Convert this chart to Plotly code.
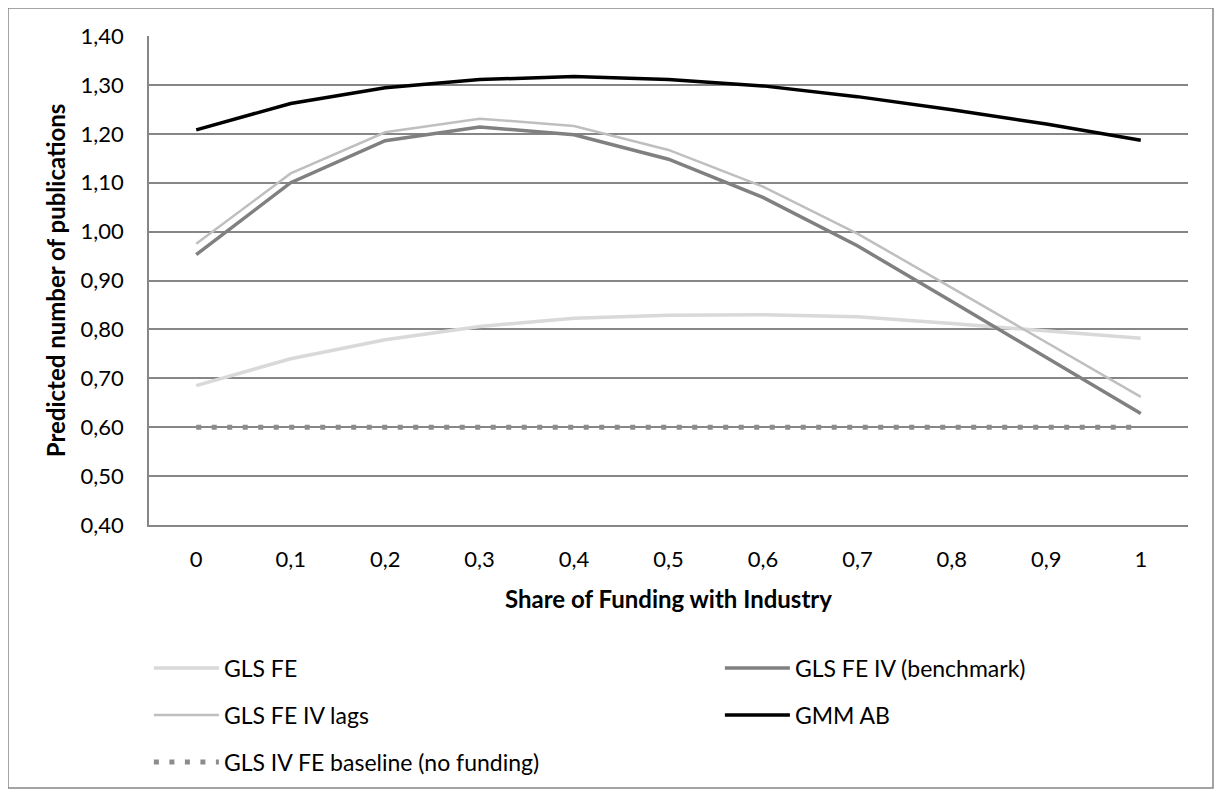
import plotly.graph_objects as go

# ---- data ----
x_labels = ["0", "0,1", "0,2", "0,3", "0,4", "0,5", "0,6", "0,7", "0,8", "0,9", "1"]
gls_fe = [0.685, 0.740, 0.779, 0.806, 0.823, 0.829, 0.830, 0.826, 0.812, 0.797, 0.782]
gls_fe_iv = [0.953, 1.100, 1.186, 1.214, 1.198, 1.148, 1.070, 0.971, 0.857, 0.743, 0.628]
gls_fe_iv_lags = [0.975, 1.119, 1.203, 1.231, 1.216, 1.167, 1.092, 0.996, 0.885, 0.774, 0.662]
gmm_ab = [1.208, 1.262, 1.294, 1.311, 1.317, 1.311, 1.298, 1.276, 1.249, 1.220, 1.187]
baseline = [0.60] * 11

FONT = "Lato"
FS_TICK = 22
FS_LEG = 23
FS_TITLE = 24
OFF = 8  # page body margin
W, H = 1216, 788
L, R, T, B = 149 - OFF, 1188 - OFF, 36 - OFF, 525 - OFF

fig = go.Figure()
fig.add_trace(go.Scatter(x=x_labels, y=gls_fe, name="GLS FE", mode="lines",
                         line=dict(color="#D9D9D9", width=3.5), legend="legend"))
fig.add_trace(go.Scatter(x=x_labels, y=gls_fe_iv, name="GLS FE IV (benchmark)", mode="lines",
                         line=dict(color="#808080", width=3.5), legend="legend"))
fig.add_trace(go.Scatter(x=x_labels, y=gls_fe_iv_lags, name="GLS FE IV lags", mode="lines",
                         line=dict(color="#BFBFBF", width=2.5), legend="legend2"))
fig.add_trace(go.Scatter(x=x_labels, y=gmm_ab, name="GMM AB", mode="lines",
                         line=dict(color="#000000", width=3.5), legend="legend2"))
fig.add_trace(go.Scatter(x=x_labels, y=baseline, name="GLS IV FE baseline (no funding)", mode="lines",
                         line=dict(color="#8C8C8C", width=5, dash="5px,10.5px"), legend="legend3"))

def py(pix):
    return (B - (pix - OFF)) / (B - T)

def px(pix):
    return ((pix - OFF) - L) / (R - L)

leg_common = dict(orientation="h", entrywidth=491, entrywidthmode="pixels",
                  itemwidth=65, xanchor="left", yanchor="middle",
                  font=dict(family=FONT, size=FS_LEG, color="#000000"),
                  bgcolor="rgba(0,0,0,0)", traceorder="normal")

fig.update_layout(
    width=W, height=H,
    margin=dict(l=L, r=W - R, t=T, b=H - B, autoexpand=False),
    paper_bgcolor="white", plot_bgcolor="white",
    separators=",.",
    font=dict(family=FONT, size=FS_TICK, color="#000000"),
    showlegend=True,
    legend=dict(x=-0.0001, y=py(668), **leg_common),
    legend2=dict(x=-0.0001, y=py(715), **leg_common),
    legend3=dict(x=-0.0001, y=py(762), **leg_common),
    xaxis=dict(
        type="category", range=[-0.5, 10.5],
        showgrid=False, showline=True, linecolor="#868686", linewidth=1.5,
        ticks="", ticklabelstandoff=14,
        tickfont=dict(family=FONT, size=FS_TICK, color="#000000"),
        title=dict(text="<b>Share of Funding with Industry</b>", standoff=20,
                   font=dict(family=FONT, size=FS_TITLE, color="#000000")),
    ),
    yaxis=dict(
        range=[0.40, 1.40], dtick=0.1, tick0=0.4, tickformat=".2f",
        showgrid=True, gridcolor="#868686", gridwidth=1.5,
        showline=True, linecolor="#868686", linewidth=1.5, zeroline=False,
        ticks="", ticklabelstandoff=19,
        tickfont=dict(family=FONT, size=FS_TICK, color="#000000"),
        title=dict(text="<b>Predicted number of publications</b>", standoff=8,
                   font=dict(family=FONT, size=FS_TITLE, color="#000000")),
    ),
    shapes=[dict(type="rect", xref="paper", yref="paper",
                 x0=px(8), x1=px(1213), y0=py(788), y1=py(8),
                 line=dict(color="#868686", width=1.5), fillcolor="rgba(0,0,0,0)", layer="below")],
)

fig.write_html("out.html")
